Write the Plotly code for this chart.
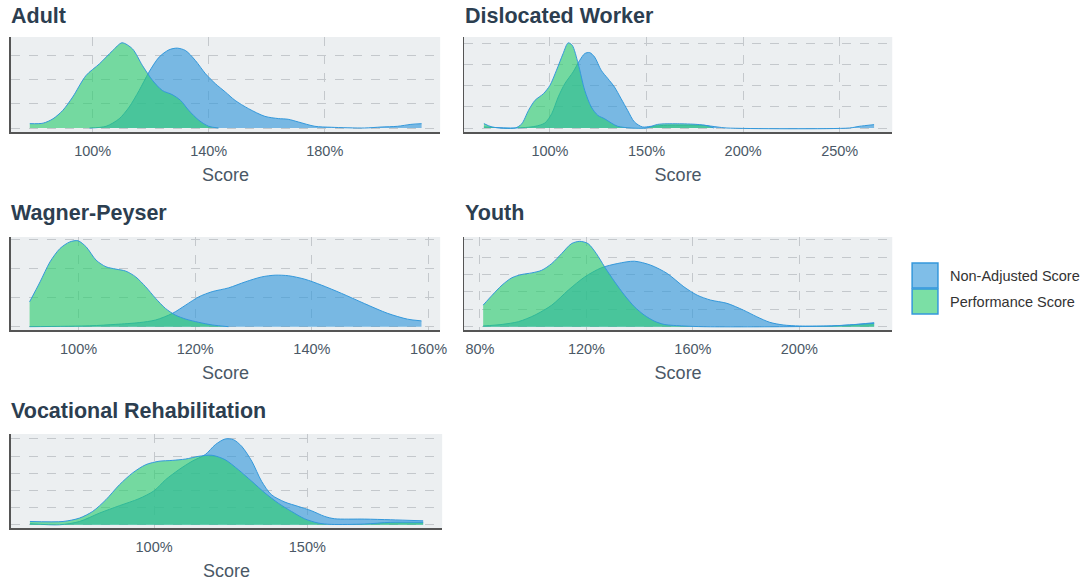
import plotly.graph_objects as go

W, H = 1092, 586

# ---------------- data (x in %, y = density, gridline units) ----------------
panel_titles = ["Adult", "Dislocated Worker", "Wagner-Peyser", "Youth", "Vocational Rehabilitation"]
series_names = ["Non-Adjusted Score", "Performance Score"]

adult_nonadj_x = [98.9, 104.6, 109.1, 112.6, 116.0, 119.4, 122.9, 126.3, 129.1, 132.0, 135.4, 138.9, 142.3, 145.7,
                  149.1, 153.7, 159.4, 164.0, 167.4, 170.9, 176.6, 182.3, 193.7, 199.4, 205.1, 209.7, 213.4]
adult_nonadj_y = [0.0, 0.07, 0.38, 0.87, 1.55, 2.31, 2.93, 3.23, 3.30, 3.20, 2.79, 2.24, 1.83, 1.49,
                  1.14, 0.80, 0.48, 0.39, 0.36, 0.25, 0.07, 0.03, 0.0, 0.04, 0.07, 0.15, 0.18]
adult_perf_x = [78.3, 82.9, 86.3, 89.7, 93.1, 97.7, 102.3, 106.9, 110.1, 113.7, 117.1, 120.6, 124.0, 127.4,
                130.3, 133.1, 136.6, 140.0, 143.4]
adult_perf_y = [0.18, 0.20, 0.38, 0.73, 1.28, 2.17, 2.65, 3.20, 3.52, 3.27, 2.59, 1.97, 1.55, 1.38,
                1.14, 0.73, 0.32, 0.07, 0.0]

dw_nonadj_x = [65.8, 82.0, 92.3, 97.4, 100.9, 104.3, 107.7, 112.0, 115.4, 118.0, 120.5, 123.1, 126.5, 130.0,
               133.4, 136.8, 140.2, 143.7, 147.9, 152.2, 160.8, 169.3, 179.6, 186.5, 191.6, 255.0, 260.1, 267.8]
dw_nonadj_y = [0.05, 0.0, 0.08, 0.24, 0.68, 1.48, 2.11, 2.67, 3.22, 3.54, 3.59, 3.38, 2.75, 2.35,
               1.95, 1.40, 0.84, 0.29, 0.05, 0.08, 0.13, 0.13, 0.13, 0.05, 0.0, 0.0, 0.08, 0.16]
dw_perf_x = [65.8, 70.0, 82.0, 85.4, 88.9, 92.3, 96.6, 100.0, 103.4, 106.8, 109.4, 111.5, 114.6, 118.0,
             121.4, 124.8, 128.3, 131.7, 135.1, 142.0, 150.0, 155.7, 165.9, 176.2, 181.3, 184.8]
dw_perf_y = [0.21, 0.05, 0.0, 0.20, 0.84, 1.32, 1.63, 2.03, 2.75, 3.54, 4.05, 3.94, 3.06, 1.79,
             1.00, 0.60, 0.44, 0.24, 0.08, 0.0, 0.0, 0.17, 0.20, 0.17, 0.11, 0.0]

wp_nonadj_x = [91.6, 101.9, 106.4, 110.4, 113.2, 116.1, 118.4, 120.6, 122.9, 125.7, 128.6, 131.4, 133.7, 136.0,
               138.8, 141.6, 145.1, 149.0, 153.0, 156.4, 158.8]
wp_nonadj_y = [0.0, 0.03, 0.08, 0.14, 0.23, 0.46, 0.75, 1.03, 1.21, 1.34, 1.55, 1.72, 1.78, 1.76,
               1.64, 1.44, 1.15, 0.80, 0.46, 0.26, 0.20]
wp_perf_x = [91.6, 93.4, 95.1, 96.8, 98.5, 99.9, 101.3, 103.0, 104.7, 106.4, 108.1, 109.8, 111.5, 113.2,
             114.9, 116.6, 118.4, 120.6, 122.9, 125.7]
wp_perf_y = [0.86, 1.55, 2.24, 2.70, 2.93, 2.97, 2.76, 2.30, 2.07, 1.99, 1.92, 1.72, 1.38, 0.98,
             0.63, 0.40, 0.26, 0.15, 0.06, 0.0]

youth_nonadj_x = [81.2, 88.3, 94.5, 100.7, 107.0, 113.2, 119.4, 125.6, 131.8, 138.0, 144.2, 150.4, 156.6, 161.6,
                  166.6, 172.8, 179.0, 184.0, 188.9, 193.9, 200.1, 210.1, 218.8, 228.1]
youth_nonadj_y = [0.04, 0.13, 0.29, 0.67, 1.24, 2.10, 2.86, 3.38, 3.63, 3.76, 3.53, 3.05, 2.29, 1.81,
                  1.53, 1.34, 0.95, 0.57, 0.25, 0.10, 0.04, 0.04, 0.10, 0.23]
youth_perf_x = [81.2, 84.6, 88.3, 92.0, 95.8, 99.5, 103.2, 107.0, 110.7, 114.4, 117.5, 120.6, 123.7, 126.8,
                130.6, 134.3, 138.0, 141.7, 145.5, 149.2, 156.6, 164.1, 193.9, 212.5, 218.8, 228.1]
youth_perf_y = [1.24, 1.81, 2.39, 2.81, 3.00, 3.09, 3.24, 3.63, 4.20, 4.77, 4.90, 4.77, 4.20, 3.44,
                2.58, 1.81, 1.15, 0.67, 0.32, 0.13, 0.04, 0.0, 0.0, 0.04, 0.10, 0.19]

vr_nonadj_x = [59.5, 69.2, 75.7, 82.2, 88.7, 95.1, 100.0, 103.8, 108.1, 112.4, 116.7, 120.0, 123.2, 125.9,
               128.6, 131.9, 135.1, 138.3, 142.7, 147.0, 151.3, 155.6, 158.9, 168.6, 177.2, 187.8]
vr_nonadj_y = [0.06, 0.0, 0.19, 0.68, 1.11, 1.52, 1.98, 2.63, 3.21, 3.70, 4.09, 4.67, 5.00, 4.96,
               4.57, 3.70, 2.53, 1.75, 1.32, 1.07, 0.82, 0.49, 0.35, 0.33, 0.29, 0.23]
vr_perf_x = [59.5, 70.3, 75.7, 80.0, 84.3, 88.7, 93.0, 97.3, 101.6, 105.9, 110.3, 114.6, 118.9, 123.2,
             127.5, 131.9, 136.2, 140.5, 144.8, 149.1, 153.5, 157.8, 168.6, 177.2, 187.8]
vr_perf_y = [0.19, 0.19, 0.39, 0.78, 1.46, 2.33, 3.02, 3.50, 3.70, 3.75, 3.83, 3.99, 4.05, 3.79,
             3.21, 2.53, 1.85, 1.26, 0.78, 0.35, 0.10, 0.02, 0.04, 0.14, 0.14]

# axis settings per panel: x range, tick step, y range
x_ranges = [[71.8, 219.8], [55.5, 277.2], [88.4, 162.0], [74.0, 234.9], [53.3, 194.0]]
x_dticks = [40, 50, 20, 40, 50]
x_tick0 = [20, 0, 0, 0, 0]
y_ranges = [[-0.165, 3.76], [-0.19, 4.33], [-0.115, 3.10], [-0.19, 5.15], [-0.19, 5.29]]

panels = [
    (adult_nonadj_x, adult_nonadj_y, adult_perf_x, adult_perf_y),
    (dw_nonadj_x, dw_nonadj_y, dw_perf_x, dw_perf_y),
    (wp_nonadj_x, wp_nonadj_y, wp_perf_x, wp_perf_y),
    (youth_nonadj_x, youth_nonadj_y, youth_perf_x, youth_perf_y),
    (vr_nonadj_x, vr_nonadj_y, vr_perf_x, vr_perf_y),
]

# ---------------- styling / layout ----------------
BLUE = "#3498DB"
FILL_BLUE = "rgba(52,152,219,0.63)"
FILL_GREEN = "rgba(46,204,113,0.63)"
TITLE_COLOR = "#2C3E50"
TEXT_COLOR = "#4A5866"
FONT = "Liberation Sans, Arial, sans-serif"

# pixel boxes: (left, right, top, bottom)
boxes = [(11, 443, 37, 132), (467, 898, 37, 132),
         (11, 443, 237, 330), (467, 898, 237, 330),
         (11, 445, 434, 528)]
title_pos = [(9, 16), (466, 16), (9, 213), (466, 213), (9, 411)]


def px(x):
    return x / W


def py(y):
    return 1 - y / H


fig = go.Figure()
layout = dict(
    width=W, height=H, margin=dict(l=0, r=0, t=0, b=0),
    paper_bgcolor="white", plot_bgcolor="#ECEFF1",
    showlegend=False, font=dict(family=FONT, color=TEXT_COLOR),
)

annotations = []
shapes = []
for i, (bx, by, gx, gy) in enumerate(panels):
    n = i + 1
    xa = "x" if n == 1 else f"x{n}"
    ya = "y" if n == 1 else f"y{n}"
    fig.add_trace(go.Scatter(x=bx, y=by, name=series_names[0], mode="lines",
                             line=dict(color=BLUE, width=1, shape="spline", smoothing=0.8),
                             fill="tozeroy", fillcolor=FILL_BLUE, xaxis=xa, yaxis=ya,
                             showlegend=False))
    fig.add_trace(go.Scatter(x=gx, y=gy, name=series_names[1], mode="lines",
                             line=dict(color=BLUE, width=1, shape="spline", smoothing=0.8),
                             fill="tozeroy", fillcolor=FILL_GREEN, xaxis=xa, yaxis=ya,
                             showlegend=False))
    l, r, t, b = boxes[i]
    xkey = "xaxis" if n == 1 else f"xaxis{n}"
    ykey = "yaxis" if n == 1 else f"yaxis{n}"
    layout[xkey] = dict(
        domain=[px(l), px(r)], anchor=ya, range=x_ranges[i],
        tick0=x_tick0[i], dtick=x_dticks[i], ticksuffix="%",
        showgrid=True, gridcolor="#C4C8CC", griddash="dash", gridwidth=1,
        zeroline=False, showline=True, linecolor="#555555", linewidth=1.5,
        ticks="outside", ticklen=5, tickcolor="rgba(0,0,0,0)",
        tickfont=dict(size=14.5, color=TEXT_COLOR, family=FONT),
        title=dict(text="Score", font=dict(size=18, color=TEXT_COLOR, family=FONT), standoff=10),
        fixedrange=True,
    )
    layout[ykey] = dict(
        domain=[py(b), py(t)], anchor=xa, range=y_ranges[i], dtick=1, tick0=0,
        showgrid=True, gridcolor="#C4C8CC", griddash="dash", gridwidth=1,
        zeroline=False, showline=True, linecolor="#555555", linewidth=1.5,
        showticklabels=False, ticks="", fixedrange=True,
    )
    tx, ty = title_pos[i]
    annotations.append(dict(text=f"<b>{panel_titles[i]}</b>", x=px(tx), y=py(ty),
                            xref="paper", yref="paper", xanchor="left", yanchor="middle",
                            showarrow=False, font=dict(size=21.5, color=TITLE_COLOR, family=FONT)))

# custom legend (square swatches)
legend_items = [(series_names[0], FILL_BLUE, 263, 288), (series_names[1], FILL_GREEN, 289, 314)]
for name, fc, t, b in legend_items:
    shapes.append(dict(type="rect", xref="paper", yref="paper", x0=px(918), x1=px(944),
                       y0=py(b), y1=py(t), fillcolor=fc, line=dict(color=BLUE, width=1.5)))
    annotations.append(dict(text=name, x=px(954), y=py((t + b) / 2), xref="paper", yref="paper",
                            xanchor="left", yanchor="middle", showarrow=False,
                            font=dict(size=14.5, color="#333333", family=FONT)))

layout["annotations"] = annotations
layout["shapes"] = shapes
fig.update_layout(**layout)
fig.write_html(
    "out.html",
    config={"displayModeBar": False, "staticPlot": True},
    post_script=("document.body.style.margin='0';"
                 "document.body.style.overflow='hidden';"
                 "document.documentElement.style.overflow='hidden';"),
)
